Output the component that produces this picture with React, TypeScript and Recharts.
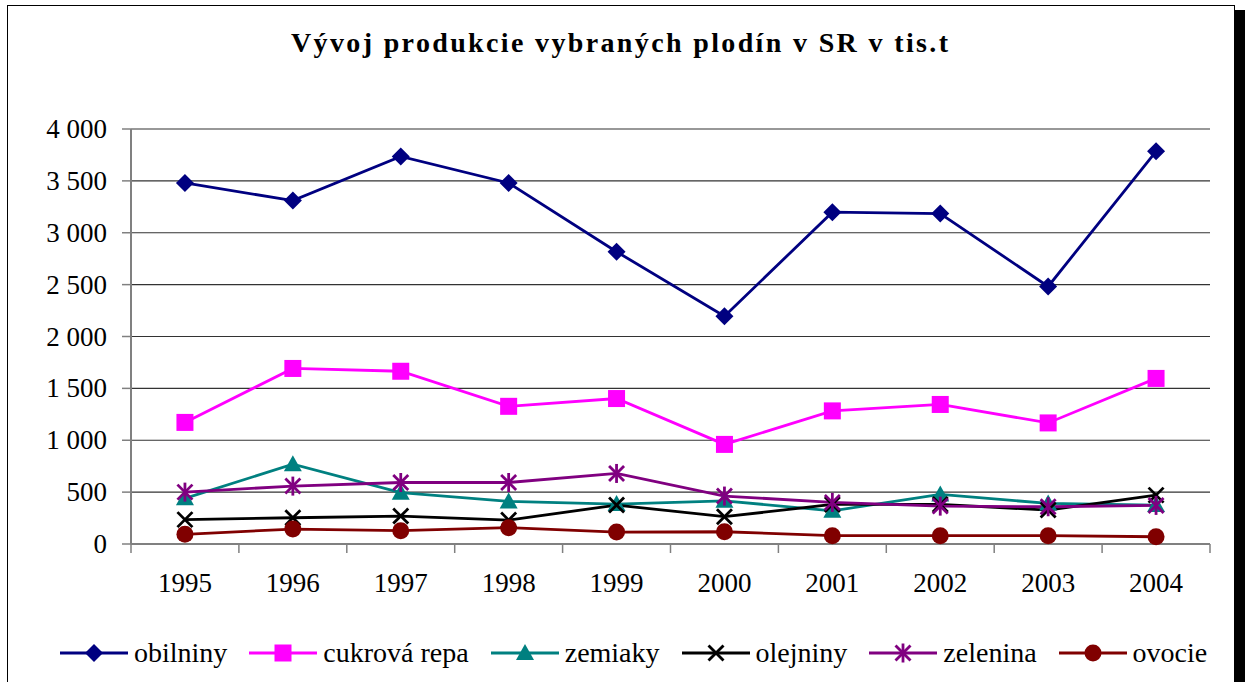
import React from 'react';
import { LineChart, Line, XAxis, YAxis, CartesianGrid, Legend } from 'recharts';

const years = ['1995', '1996', '1997', '1998', '1999', '2000', '2001', '2002', '2003', '2004'];
const obilniny = [3480, 3310, 3735, 3480, 2817, 2195, 3198, 3185, 2482, 3785];
const cukrovaRepa = [1172, 1692, 1665, 1327, 1402, 960, 1283, 1345, 1167, 1596];
const zemiaky = [440, 769, 495, 410, 385, 416, 320, 478, 391, 375];
const olejniny = [235, 253, 269, 231, 375, 263, 381, 381, 327, 471];
const zelenina = [500, 558, 593, 593, 680, 462, 401, 365, 359, 372];
const ovocie = [93, 144, 128, 157, 115, 118, 80, 80, 80, 70];
const yTicks = [0, 500, 1000, 1500, 2000, 2500, 3000, 3500, 4000];
const xTicks = [0, 1, 2, 3, 4, 5, 6, 7, 8, 9, 10];
const TITLE = 'Vývoj produkcie vybraných plodín v SR v tis.t';

const FONT = "'Liberation Serif', 'Times New Roman', serif";

const series = [
  { key: 'obilniny', name: 'obilniny', color: '#000080', shape: 'diamond', values: obilniny },
  { key: 'cukrova', name: 'cukrová repa', color: '#FF00FF', shape: 'square', values: cukrovaRepa },
  { key: 'zemiaky', name: 'zemiaky', color: '#008080', shape: 'triangle', values: zemiaky },
  { key: 'olejniny', name: 'olejniny', color: '#000000', shape: 'x', values: olejniny },
  { key: 'zelenina', name: 'zelenina', color: '#800080', shape: 'star', values: zelenina },
  { key: 'ovocie', name: 'ovocie', color: '#800000', shape: 'circle', values: ovocie },
];

const data = years.map((year, i) => {
  const row: Record<string, number | string> = { pos: i + 0.5, year };
  series.forEach((s) => {
    row[s.key] = s.values[i];
  });
  return row;
});

function marker(shape: string, cx: number, cy: number, color: string) {
  switch (shape) {
    case 'diamond':
      return <polygon points={`${cx},${cy - 9} ${cx + 9},${cy} ${cx},${cy + 9} ${cx - 9},${cy}`} fill={color} />;
    case 'square':
      return <rect x={cx - 8.5} y={cy - 8.5} width={17} height={17} fill={color} />;
    case 'triangle':
      return <polygon points={`${cx},${cy - 9} ${cx + 9},${cy + 7} ${cx - 9},${cy + 7}`} fill={color} />;
    case 'x':
      return (
        <g stroke={color} strokeWidth={2.8}>
          <line x1={cx - 7.5} y1={cy - 7.5} x2={cx + 7.5} y2={cy + 7.5} />
          <line x1={cx - 7.5} y1={cy + 7.5} x2={cx + 7.5} y2={cy - 7.5} />
        </g>
      );
    case 'star':
      return (
        <g stroke={color} strokeWidth={2.8}>
          <line x1={cx - 7.5} y1={cy - 7.5} x2={cx + 7.5} y2={cy + 7.5} />
          <line x1={cx - 7.5} y1={cy + 7.5} x2={cx + 7.5} y2={cy - 7.5} />
          <line x1={cx} y1={cy - 9.5} x2={cx} y2={cy + 9.5} />
        </g>
      );
    default:
      return <circle cx={cx} cy={cy} r={8.5} fill={color} />;
  }
}

const makeDot = (shape: string, color: string) => (props: any) => {
  const { cx, cy, index } = props;
  if (cx == null || cy == null) return <g key={`d-${shape}-${index}`} />;
  return <g key={`d-${shape}-${index}`}>{marker(shape, cx, cy, color)}</g>;
};

const formatY = (v: number) =>
  v >= 1000 ? `${Math.floor(v / 1000)} ${String(v % 1000).padStart(3, '0')}` : String(v);

const XTick = (props: any) => {
  const { x, y, payload, width } = props;
  const i = payload.value;
  if (i >= years.length) return <g />;
  const w = typeof width === 'number' && width > 0 ? width : 1079;
  const step = w / years.length;
  return (
    <text x={x + step / 2} y={y + 19} textAnchor="middle" fontFamily={FONT} fontSize={27} fill="#000">
      {years[i]}
    </text>
  );
};

const YTick = (props: any) => {
  const { x, y, payload } = props;
  return (
    <text x={x} y={y + 9} textAnchor="end" fontFamily={FONT} fontSize={27} fill="#000">
      {formatY(payload.value)}
    </text>
  );
};

const renderLegend = (props: any) => {
  const payload = [...(props.payload || [])].sort(
    (a: any, b: any) => series.findIndex((s) => s.key === a.dataKey) - series.findIndex((s) => s.key === b.dataKey)
  );
  return (
    <div style={{ display: 'flex', alignItems: 'center', fontFamily: FONT, fontSize: 28, color: '#000', whiteSpace: 'nowrap' }}>
      {payload.map((entry: any) => {
        const s = series.find((q) => q.key === entry.dataKey) || series[0];
        return (
          <div key={s.key} style={{ display: 'flex', alignItems: 'center', marginRight: 22 }}>
            <svg width={68} height={24} style={{ display: 'block' }}>
              <line x1={0} y1={12} x2={68} y2={12} stroke={s.color} strokeWidth={3} />
              {marker(s.shape, 34, 12, s.color)}
            </svg>
            <span style={{ marginLeft: 6 }}>{entry.value}</span>
          </div>
        );
      })}
    </div>
  );
};

export default function App() {
  return (
    <div style={{ position: 'absolute', left: 0, top: 0, width: 1245, height: 682, overflow: 'hidden', background: '#fff' }}>
      <div
        style={{
          position: 'absolute',
          left: 7,
          top: 5,
          width: 1228,
          height: 720,
          boxSizing: 'border-box',
          border: '1.5px solid #000',
          boxShadow: '10px 5px 0 0 #000',
          background: '#fff',
        }}
      />
      <svg width={1245} height={70} style={{ position: 'absolute', left: 0, top: 0 }}>
        <text
          x={619.5}
          y={52}
          textAnchor="middle"
          fontFamily={FONT}
          fontWeight="bold"
          fontSize={28}
          fill="#000"
          textLength={657}
          lengthAdjust="spacing"
        >
          {TITLE}
        </text>
      </svg>
      <div style={{ position: 'absolute', left: 0, top: 0 }}>
        <LineChart width={1245} height={682} data={data} margin={{ top: 129, right: 35, bottom: 78, left: 0 }}>
          <CartesianGrid horizontal vertical={false} stroke="#333" strokeWidth={1.2} />
          <XAxis
            type="number"
            dataKey="pos"
            domain={[0, 10]}
            ticks={xTicks}
            interval={0}
            height={60}
            tickSize={9}
            tickMargin={20}
            axisLine={{ stroke: '#808080', strokeWidth: 2 }}
            tickLine={{ stroke: '#808080', strokeWidth: 1.5 }}
            tick={<XTick />}
          />
          <YAxis
            type="number"
            domain={[0, 4000]}
            ticks={yTicks}
            interval={0}
            width={131}
            tickSize={9}
            tickMargin={15}
            axisLine={{ stroke: '#808080', strokeWidth: 2 }}
            tickLine={{ stroke: '#808080', strokeWidth: 1.5 }}
            tick={<YTick />}
          />
          {series.map((s) => (
            <Line
              key={s.key}
              dataKey={s.key}
              name={s.name}
              stroke={s.color}
              strokeWidth={2.8}
              dot={makeDot(s.shape, s.color)}
              activeDot={false}
              isAnimationActive={false}
            />
          ))}
          <Legend
            layout="horizontal"
            verticalAlign="middle"
            align="center"
            content={renderLegend}
            wrapperStyle={{ position: 'absolute', left: 60, top: 637, width: 'auto', height: 'auto' }}
          />
        </LineChart>
      </div>
    </div>
  );
}
